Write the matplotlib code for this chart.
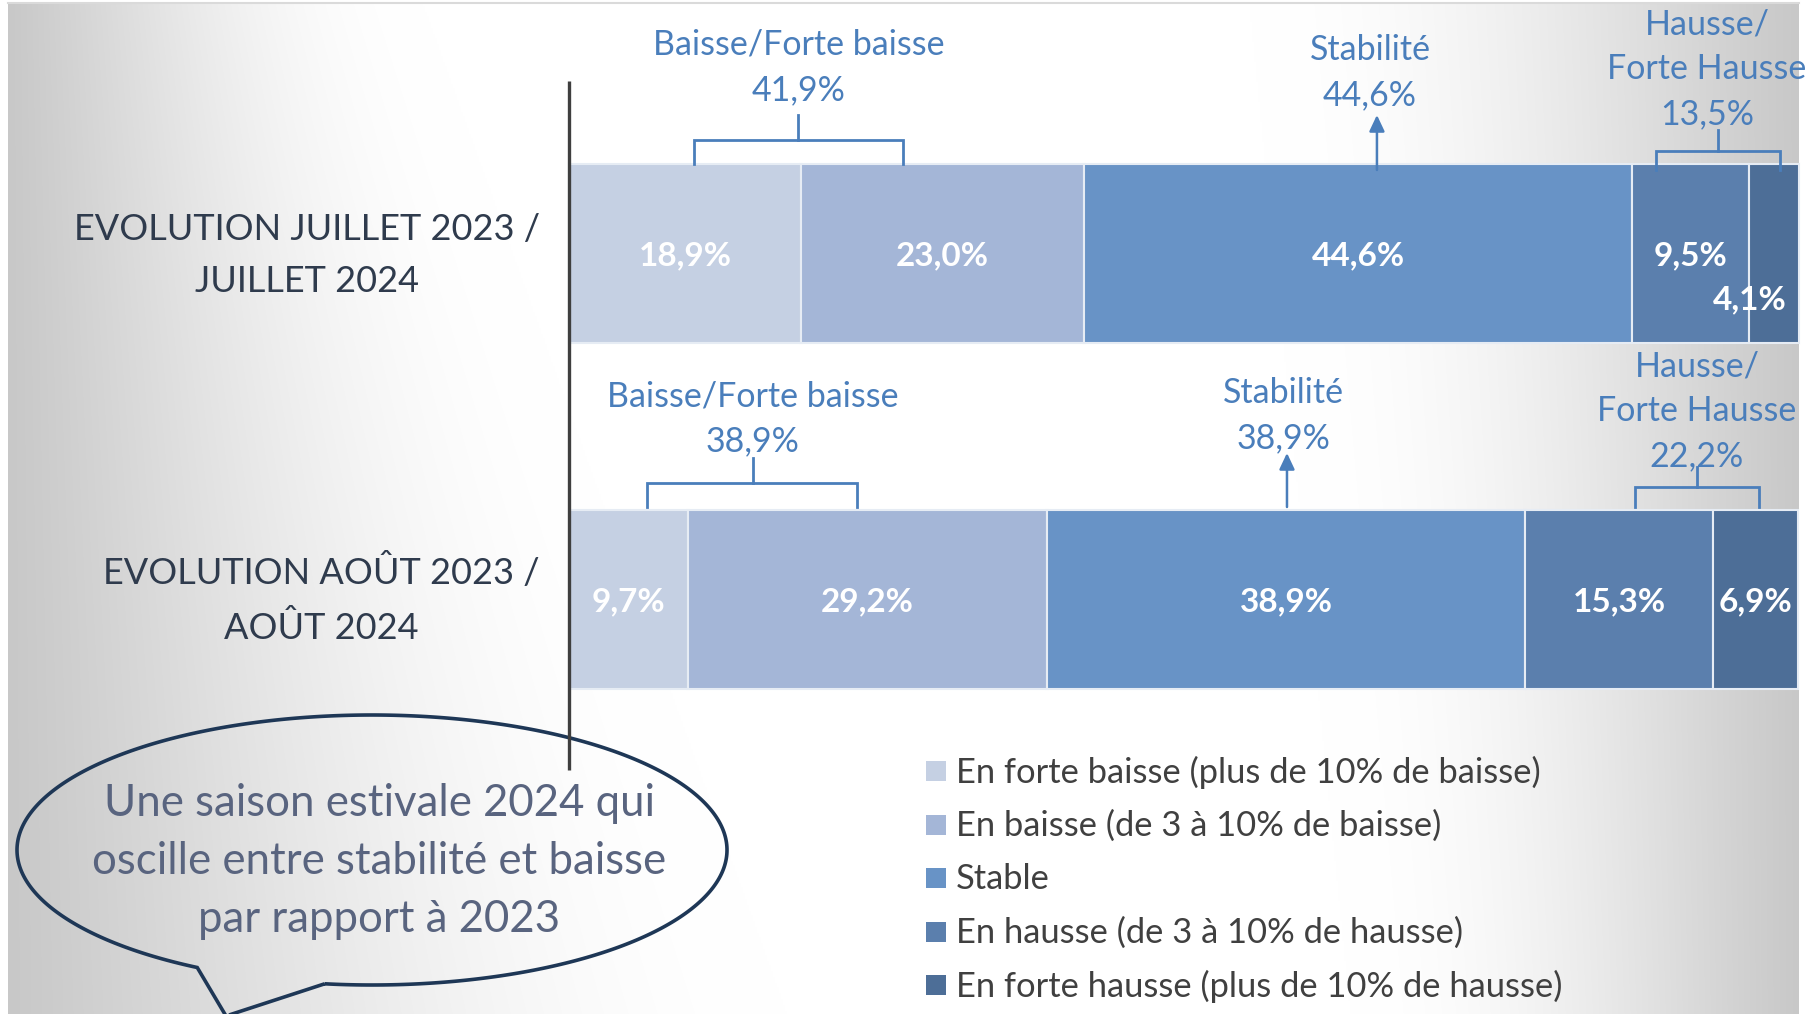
import numpy as np
import matplotlib
matplotlib.use("Agg")
import matplotlib.pyplot as plt
from matplotlib.patches import Rectangle, Polygon

# ---------------- data ----------------
categories = ["EVOLUTION JUILLET 2023 /\nJUILLET 2024", "EVOLUTION AOÛT 2023 /\nAOÛT 2024"]
series = ["En forte baisse (plus de 10% de baisse)",
          "En baisse (de 3 à 10% de baisse)",
          "Stable",
          "En hausse (de 3 à 10% de hausse)",
          "En forte hausse (plus de 10% de hausse)"]
forte_baisse = [18.9, 9.7]
baisse = [23.0, 29.2]
stable = [44.6, 38.9]
hausse = [9.5, 15.3]
forte_hausse = [4.1, 6.9]
group_names = ["Baisse/Forte baisse", "Stabilité", "Hausse/\nForte Hausse"]
group_totals_juillet = [41.9, 44.6, 13.5]
group_totals_aout = [38.9, 38.9, 22.2]
bubble_text = "Une saison estivale 2024 qui\noscille entre stabilité et baisse\npar rapport à 2023"

# ---------------- style ----------------
W, H = 1816, 1014
colors = ["#C5D0E3", "#A4B6D7", "#6893C6", "#5B7FAD", "#4D6E97"]
blue = "#4A7EBB"
FONT = "Lato"
plt.rcParams["font.family"] = [FONT, "DejaVu Sans"]

fig = plt.figure(figsize=(W / 100, H / 100), dpi=100)
fig.patch.set_facecolor("white")

# background axes in pixel coordinates
bg = fig.add_axes([0, 0, 1, 1])
bg.set_xlim(0, W)
bg.set_ylim(H, 0)
bg.axis("off")

x0, x1, y0, y1 = 8, 1799, 3, H
xs = np.arange(x0, x1, 2.0)
ys = np.arange(y0, y1, 2.0)
X, Y = np.meshgrid(xs, ys)
gray = 0.785
xw = 420 + 0.36 * Y          # start of white band
xe = 1250 + 0.10 * Y         # end of white band
left = np.clip((X - x0) / (xw - x0), 0, 1)
right = np.clip((x1 - X) / (x1 - xe), 0, 1)
t = np.minimum(left, right)
t = np.sin(t * np.pi / 2) ** 1.1
I = gray + (1 - gray) * t
img = np.dstack([I, I, I])
bg.imshow(img, extent=[x0, x1, y1, y0], aspect="auto", interpolation="bilinear", zorder=0)
bg.plot([x0, x1], [y0, y0], color="#DADADA", lw=1.5, zorder=1)

# bar axes: x in percent, y in pixels
ax_left, ax_right = 569, 1798
ax = fig.add_axes([ax_left / W, 0, (ax_right - ax_left) / W, 1])
ax.set_xlim(0, 100)
ax.set_ylim(H, 0)
ax.axis("off")
ax.patch.set_alpha(0)

bar_centers = [253.5 + 346 * i for i in range(len(categories))]
bar_h = 179
data = [forte_baisse, baisse, stable, hausse, forte_hausse]
lefts = np.zeros(len(categories))
label_offsets = {(0, 4): (-2.0, 44)}
for k, vals in enumerate(data):
    ax.barh(bar_centers, vals, left=lefts, height=bar_h, color=colors[k],
            edgecolor="#E6ECF4", linewidth=1.5, label=series[k], zorder=2, clip_on=False)
    for i, v in enumerate(vals):
        dx, dy = label_offsets.get((i, k), (0, 0))
        ax.text(lefts[i] + v / 2 + dx, bar_centers[i] + 2 + dy, f"{v:.1f}%".replace(".", ","),
                ha="center", va="center", color="white", fontsize=24, fontweight="bold", zorder=3)
    lefts += np.array(vals)

# vertical axis line
ax.plot([0, 0], [81, 770], color="#3F3F3F", lw=2.4, zorder=4, clip_on=False, solid_capstyle="butt")

# group annotations
def fmt(v):
    return f"{v:.1f}%".replace(".", ",")

gap = 45
# (text_x %, last line y)
text_layout = [
    [(18.71, 90), (65.18, 95), (92.6, 114)],
    [(14.97, 441), (58.1, 438), (91.78, 456)],
]
# brackets: (left %, right %, horiz y, stem x %, stem top y, legs bottom y)
bracket_layout = [
    {0: (10.17, 27.18, 140, 18.63, 115, 164), 2: (88.45, 98.54, 151, 93.49, 130, 170)},
    {0: (6.35, 23.43, 483, 14.97, 458, 507), 2: (86.74, 96.83, 487, 91.78, 467, 507)},
]
arrow_layout = [(65.74, 115, 170), (58.42, 453, 507)]
totals = [group_totals_juillet, group_totals_aout]

for i in range(len(categories)):
    for g, name in enumerate(group_names):
        lines = name.split("\n") + [fmt(totals[i][g])]
        tx, ly = text_layout[i][g]
        n = len(lines)
        for j, line in enumerate(lines):
            ax.text(tx, ly - (n - 1 - j) * gap, line, ha="center", va="center",
                    color=blue, fontsize=24.5, zorder=5, clip_on=False)
        if g in bracket_layout[i]:
            l, r, hy, sx, st, lb = bracket_layout[i][g]
            ax.plot([l, l, r, r], [lb, hy, hy, lb], color=blue, lw=2.0, zorder=5,
                    clip_on=False, solid_joinstyle="miter")
            ax.plot([sx, sx], [hy, st], color=blue, lw=2.0, zorder=5, clip_on=False)
    axx, tip, base = arrow_layout[i]
    ax.annotate("", xy=(axx, tip), xytext=(axx, base),
                arrowprops=dict(arrowstyle="-|>,head_length=0.7,head_width=0.33",
                                color=blue, lw=1.8, mutation_scale=14, shrinkA=0, shrinkB=0),
                zorder=5, annotation_clip=False)

# category labels
cat_layout = [(540, 255.5), (540, 599.5)]
for i, cat in enumerate(categories):
    cx, cy = cat_layout[i]
    bg.text(cx, cy, cat, ha="right", va="center", multialignment="center",
            color="#2F3B4D", fontsize=26, linespacing=1.72, zorder=3)

# legend
leg_x, leg_y0, leg_dy, sq = 926, 771, 53.5, 20
for k, name in enumerate(series):
    yy = leg_y0 + k * leg_dy
    bg.add_patch(Rectangle((leg_x, yy - sq / 2), sq, sq, facecolor=colors[k], edgecolor="none", zorder=3))
    bg.text(leg_x + 30, yy + 1, name, ha="left", va="center", color="#404040", fontsize=24.8, zorder=3)

# speech bubble
cx, cy, a, b = 372, 850, 355, 135
t_right = np.arctan2((983 - cy) / b, (325 - cx) / a)
t_left = np.arctan2((967 - cy) / b, (198 - cx) / a)
ts = np.linspace(t_right, t_left - 2 * np.pi, 400)
pts = np.column_stack([cx + a * np.cos(ts), cy + b * np.sin(ts)])
pts = np.vstack([pts, [[226, 1016]]])
bg.add_patch(Polygon(pts, closed=True, facecolor="none", edgecolor="#1E3756", lw=2.6,
                     joinstyle="miter", zorder=4))
blines = bubble_text.split("\n")
for j, line in enumerate(blines):
    bg.text(379, 803 + j * 58, line, ha="center", va="center", color="#59647F", fontsize=31.5, zorder=5)

fig.savefig("out.png", dpi=100)
